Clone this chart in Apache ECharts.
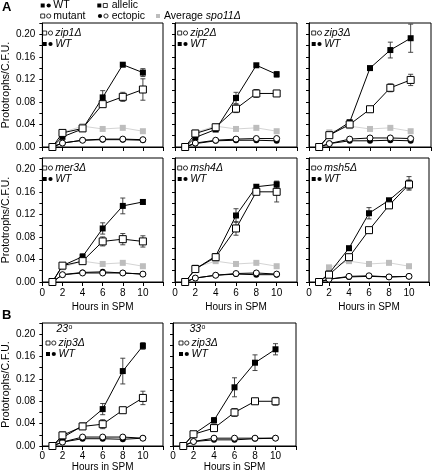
<!DOCTYPE html>
<html>
<head>
<meta charset="utf-8">
<script src="https://cdn.jsdelivr.net/npm/echarts@6/dist/echarts.min.js"></script>
<style>
html,body{margin:0;padding:0;background:#fff;}
#chart{width:432px;height:473px;}
</style>
</head>
<body>
<div id="chart"></div>
<script>
// ---- data ----
const hours = [1, 2, 4, 6, 8, 10];
const spoHours = [2, 4, 6, 8, 10];
const spo11Avg = [0.026, 0.037, 0.032, 0.034, 0.028];
const yTickLabels = [0, 0.04, 0.08, 0.12, 0.16, 0.20];
const xTickLabels = [0, 2, 4, 6, 8, 10];

// zip1
const zip1WtAllelic = [0, 0.018, 0.032, 0.088, 0.146, 0.132];
const zip1MutAllelic = [0, 0.025, 0.033, 0.076, 0.089, 0.102];
const zip1WtEctopic = [0, 0.007, 0.012, 0.013, 0.013, 0.012];
const zip1MutEctopic = [0, 0.007, 0.012, 0.014, 0.014, 0.013];
const zip1WtErr = [0, 0.002, 0.002, 0.012, 0.002, 0.007];
const zip1MutErr = [0, 0.002, 0.002, 0.004, 0.008, 0.019];
// zip2
const zip2WtAllelic = [0, 0.017, 0.031, 0.087, 0.145, 0.129];
const zip2MutAllelic = [0, 0.024, 0.035, 0.068, 0.095, 0.095];
const zip2WtEctopic = [0, 0.006, 0.011, 0.012, 0.012, 0.011];
const zip2MutEctopic = [0, 0.007, 0.012, 0.014, 0.015, 0.015];
const zip2WtErr = [0, 0.003, 0.002, 0.010, 0.002, 0.005];
const zip2MutErr = [0, 0.004, 0.002, 0.007, 0.007, 0.002];
// zip3
const zip3WtAllelic = [0, 0.021, 0.044, 0.140, 0.172, 0.193];
const zip3MutAllelic = [0, 0.021, 0.040, 0.067, 0.105, 0.119];
const zip3WtEctopic = [0, 0.006, 0.011, 0.011, 0.012, 0.011];
const zip3MutEctopic = [0, 0.006, 0.014, 0.016, 0.016, 0.015];
const zip3WtErr = [0, 0.002, 0.003, 0.002, 0.014, 0.025];
const zip3MutErr = [0, 0.002, 0.003, 0.003, 0.007, 0.010];
// mer3
const mer3WtAllelic = [0, 0.029, 0.045, 0.095, 0.135, 0.142];
const mer3MutAllelic = [0, 0.029, 0.037, 0.072, 0.076, 0.072];
const mer3WtEctopic = [0, 0.013, 0.017, 0.018, 0.016, 0.014];
const mer3MutEctopic = [0, 0.013, 0.016, 0.016, 0.016, 0.014];
const mer3WtErr = [0, 0.002, 0.005, 0.010, 0.014, 0.004];
const mer3MutErr = [0, 0.002, 0.003, 0.008, 0.010, 0.010];
// msh4
const msh4WtAllelic = [0, 0.023, 0.046, 0.118, 0.169, 0.173];
const msh4MutAllelic = [0, 0.023, 0.044, 0.095, 0.160, 0.160];
const msh4WtEctopic = [0, 0.007, 0.012, 0.014, 0.013, 0.013];
const msh4MutEctopic = [0, 0.007, 0.012, 0.015, 0.016, 0.014];
const msh4WtErr = [0, 0.002, 0.003, 0.012, 0.003, 0.006];
const msh4MutErr = [0, 0.002, 0.003, 0.012, 0.003, 0.018];
// msh5
const msh5WtAllelic = [0, 0.015, 0.060, 0.122, 0.145, 0.175];
const msh5MutAllelic = [0, 0.013, 0.044, 0.092, 0.136, 0.173];
const msh5WtEctopic = [0, 0.005, 0.009, 0.010, 0.009, 0.010];
const msh5MutEctopic = [0, 0.005, 0.010, 0.011, 0.009, 0.010];
const msh5WtErr = [0, 0.002, 0.003, 0.010, 0.003, 0.012];
const msh5MutErr = [0, 0.002, 0.003, 0.003, 0.005, 0.008];
// B: zip3 at 23 degrees
const b23WtAllelic = [0, 0.015, 0.036, 0.066, 0.134, 0.179];
const b23MutAllelic = [0, 0.019, 0.035, 0.039, 0.064, 0.086];
const b23WtEctopic = [0, 0.007, 0.013, 0.013, 0.012, 0.014];
const b23MutEctopic = [0, 0.007, 0.016, 0.016, 0.016, 0.014];
const b23WtErr = [0, 0.003, 0.005, 0.010, 0.023, 0.006];
const b23MutErr = [0, 0.006, 0.005, 0.008, 0.003, 0.012];
// B: zip3 at 33 degrees
const b33WtAllelic = [0, 0.021, 0.046, 0.105, 0.149, 0.173];
const b33MutAllelic = [0, 0.021, 0.032, 0.060, 0.080, 0.080];
const b33WtEctopic = [0, 0.008, 0.011, 0.011, 0.013, 0.014];
const b33MutEctopic = [0, 0.008, 0.014, 0.014, 0.014, 0.014];
const b33WtErr = [0, 0.003, 0.005, 0.017, 0.014, 0.010];
const b33MutErr = [0, 0.003, 0.005, 0.007, 0.005, 0.007];

// ---- layout ----
const FONT = 'Liberation Sans, Arial, Helvetica, sans-serif';
const panels = [
  {gene: 'zip1Δ', grid: {left: 40, top: 23, width: 123, height: 124}, xl: false, yl: true, spo: true,
   wa: zip1WtAllelic, ma: zip1MutAllelic, we: zip1WtEctopic, me: zip1MutEctopic, wErr: zip1WtErr, mErr: zip1MutErr},
  {gene: 'zip2Δ', grid: {left: 175, top: 23, width: 122, height: 124}, xl: false, yl: false, spo: true,
   wa: zip2WtAllelic, ma: zip2MutAllelic, we: zip2WtEctopic, me: zip2MutEctopic, wErr: zip2WtErr, mErr: zip2MutErr},
  {gene: 'zip3Δ', grid: {left: 309, top: 23, width: 122, height: 124}, xl: false, yl: false, spo: true,
   wa: zip3WtAllelic, ma: zip3MutAllelic, we: zip3WtEctopic, me: zip3MutEctopic, wErr: zip3WtErr, mErr: zip3MutErr},
  {gene: 'mer3Δ', grid: {left: 40, top: 158, width: 123, height: 124}, xl: true, yl: true, spo: true, nameGap: 20, lm: 6,
   wa: mer3WtAllelic, ma: mer3MutAllelic, we: mer3WtEctopic, me: mer3MutEctopic, wErr: mer3WtErr, mErr: mer3MutErr},
  {gene: 'msh4Δ', grid: {left: 175, top: 158, width: 122, height: 124}, xl: true, yl: false, spo: true, nameGap: 20, lm: 6,
   wa: msh4WtAllelic, ma: msh4MutAllelic, we: msh4WtEctopic, me: msh4MutEctopic, wErr: msh4WtErr, mErr: msh4MutErr},
  {gene: 'msh5Δ', grid: {left: 309, top: 158, width: 122, height: 124}, xl: true, yl: false, spo: true, nameGap: 20, lm: 6,
   wa: msh5WtAllelic, ma: msh5MutAllelic, we: msh5WtEctopic, me: msh5MutEctopic, wErr: msh5WtErr, mErr: msh5MutErr},
  {gene: 'zip3Δ', temp: '23', grid: {left: 40, top: 323, width: 123, height: 123}, xl: true, yl: true, spo: false, nameGap: 14, lm: 5,
   wa: b23WtAllelic, ma: b23MutAllelic, we: b23WtEctopic, me: b23MutEctopic, wErr: b23WtErr, mErr: b23MutErr},
  {gene: 'zip3Δ', temp: '33', grid: {left: 173, top: 323, width: 123, height: 123}, xl: true, yl: false, spo: false, nameGap: 14, lm: 5,
   wa: b33WtAllelic, ma: b33MutAllelic, we: b33WtEctopic, me: b33MutEctopic, wErr: b33WtErr, mErr: b33MutErr}
];

const grids = [], xAxes = [], yAxes = [], series = [], graphics = [];

function errRender(params, api) {
  const x = api.value(0), lo = api.value(1), hi = api.value(2);
  const pLo = api.coord([x, lo]), pHi = api.coord([x, hi]);
  const c = 2.5;
  const st = {stroke: '#333', lineWidth: 0.9};
  return {type: 'group', children: [
    {type: 'line', shape: {x1: pLo[0], y1: pLo[1], x2: pHi[0], y2: pHi[1]}, style: st},
    {type: 'line', shape: {x1: pLo[0] - c, y1: pLo[1], x2: pLo[0] + c, y2: pLo[1]}, style: st},
    {type: 'line', shape: {x1: pHi[0] - c, y1: pHi[1], x2: pHi[0] + c, y2: pHi[1]}, style: st}
  ]};
}

function pairs(xs, ys) { return xs.map((h, i) => [h, ys[i]]); }
function errData(vals, errs) {
  const out = [];
  hours.forEach((h, i) => { if (errs[i] > 0) out.push([h, vals[i] - errs[i], vals[i] + errs[i]]); });
  return out;
}

panels.forEach((p, k) => {
  grids.push(Object.assign({show: true, borderColor: '#000', borderWidth: 1, backgroundColor: 'transparent'}, p.grid));
  xAxes.push({
    type: 'value', gridIndex: k, min: 0, max: 12, interval: 2,
    axisLine: {show: true, lineStyle: {color: '#000', width: 1}},
    axisTick: {show: true, length: 4, lineStyle: {color: '#000'}},
    axisLabel: {show: p.xl, margin: p.lm || 6, color: '#000', fontSize: 10, fontFamily: FONT,
      formatter: v => (xTickLabels.indexOf(v) >= 0 ? String(v) : '')},
    splitLine: {show: false},
    name: p.xl ? 'Hours in SPM' : '', nameLocation: 'middle', nameGap: p.nameGap || 20,
    nameTextStyle: {color: '#000', fontSize: 10, fontFamily: FONT}
  });
  yAxes.push({
    type: 'value', gridIndex: k, min: 0, max: 0.22, interval: 0.02,
    axisLine: {show: true, lineStyle: {color: '#000', width: 1}},
    axisTick: {show: true, length: 3, lineStyle: {color: '#000'}},
    axisLabel: {show: p.yl, margin: 7, color: '#000', fontSize: 10, fontFamily: FONT,
      formatter: v => {
        const m = yTickLabels.find(t => Math.abs(t - v) < 1e-6);
        return m === undefined ? '' : m.toFixed(2);
      }},
    splitLine: {show: false},
    name: p.yl ? 'Prototrophs/C.F.U.' : '', nameLocation: 'middle', nameGap: 27,
    nameTextStyle: {color: '#000', fontSize: 10.5, fontFamily: FONT}
  });
  const base = {type: 'line', xAxisIndex: k, yAxisIndex: k, clip: false, animation: false, silent: true};
  if (p.spo) {
    series.push(Object.assign({}, base, {data: pairs(spoHours, spo11Avg), symbol: 'rect', symbolSize: 6,
      itemStyle: {color: '#bdbdbd'}, lineStyle: {color: '#d4d4d4', width: 1}, z: 1}));
  }
  series.push(Object.assign({}, base, {data: pairs(hours, p.we), symbol: 'circle', symbolSize: 6,
    itemStyle: {color: '#000'}, lineStyle: {color: '#000', width: 1}, z: 2}));
  series.push(Object.assign({}, base, {data: pairs(hours, p.me), symbol: 'circle', symbolSize: 6,
    itemStyle: {color: '#fff', borderColor: '#000', borderWidth: 1}, lineStyle: {color: '#000', width: 1}, z: 3}));
  series.push({type: 'custom', xAxisIndex: k, yAxisIndex: k, renderItem: errRender, data: errData(p.wa, p.wErr), z: 4, silent: true, animation: false, clip: false});
  series.push({type: 'custom', xAxisIndex: k, yAxisIndex: k, renderItem: errRender, data: errData(p.ma, p.mErr), z: 4, silent: true, animation: false, clip: false});
  series.push(Object.assign({}, base, {data: pairs(hours, p.wa), symbol: 'rect', symbolSize: 6,
    itemStyle: {color: '#000'}, lineStyle: {color: '#000', width: 1}, z: 5}));
  series.push(Object.assign({}, base, {data: pairs(hours, p.ma), symbol: 'rect', symbolSize: 7,
    itemStyle: {color: '#fff', borderColor: '#000', borderWidth: 1}, lineStyle: {color: '#000', width: 1}, z: 6}));

  // in-panel legend
  const isB = !!p.temp;
  const lx = p.grid.left + (isB ? 6 : 2.7);
  const y1 = p.grid.top + (isB ? 20 : 10);
  const y2 = p.grid.top + (isB ? 31 : 21);
  addMarks(lx, y1, ['os', 'oc']);
  graphics.push(txt(lx + 12.5, y1, p.gene, {fontStyle: 'italic'}));
  addMarks(lx, y2, ['fs', 'fc']);
  graphics.push(txt(lx + 12.5, y2, 'WT', {fontStyle: 'italic'}));
  if (isB) {
    graphics.push(txt(lx + 10.5, p.grid.top + 6.5, p.temp, {fontStyle: 'italic'}));
    graphics.push(txt(lx + 22.5, p.grid.top + 4, 'o', {fontSize: 7}));
  }
});

function txt(x, y, s, extra) {
  return {type: 'text', x: x, y: y, silent: true, style: Object.assign({
    text: s, fill: '#000', font: '10.5px ' + FONT, fontSize: 10.5, fontFamily: FONT,
    verticalAlign: 'middle', align: 'left'}, extra || {})};
}
function addMarks(x, y, marks, gap) {
  gap = gap || 5.8;
  marks.forEach((m, i) => {
    const cx = x + 2 + i * gap;
    if (m === 'fs' || m === 'os' || m === 'gs') {
      graphics.push({type: 'rect', silent: true, shape: {x: cx - 2, y: y - 2, width: 4, height: 4},
        style: {fill: m === 'fs' ? '#000' : (m === 'gs' ? '#bdbdbd' : '#fff'), stroke: m === 'os' ? '#000' : null, lineWidth: 0.8}});
    } else {
      graphics.push({type: 'circle', silent: true, shape: {cx: cx, cy: y, r: 2.1},
        style: {fill: m === 'fc' ? '#000' : '#fff', stroke: m === 'oc' ? '#000' : null, lineWidth: 0.8}});
    }
  });
}

// top legend and panel letters
graphics.push(txt(2, 7.5, 'A', {fontSize: 13, fontWeight: 'bold'}));
graphics.push(txt(2, 315, 'B', {fontSize: 13, fontWeight: 'bold'}));
addMarks(40.7, 5.5, ['fs', 'fc'], 6);
graphics.push(txt(53.3, 5.5, 'WT'));
addMarks(97.3, 5.5, ['fs', 'os'], 6);
graphics.push(txt(111.7, 5.5, 'allelic'));
addMarks(40.7, 16, ['os', 'oc'], 6);
graphics.push(txt(53.3, 16, 'mutant'));
addMarks(98, 16, ['fc', 'oc'], 6);
graphics.push(txt(111.7, 16, 'ectopic'));
addMarks(156, 16, ['gs']);
graphics.push({type: 'text', x: 164, y: 16, silent: true, style: {
  text: '{n|Average }{i|spo11Δ}', verticalAlign: 'middle', align: 'left', fill: '#000',
  fontSize: 10.5, fontFamily: FONT,
  rich: {n: {fontSize: 10.5, fontFamily: FONT, fill: '#000'}, i: {fontSize: 10.5, fontFamily: FONT, fontStyle: 'italic', fill: '#000'}}}});

const chart = echarts.init(document.getElementById('chart'), null, {renderer: 'canvas'});
chart.setOption({
  animation: false,
  backgroundColor: '#fff',
  grid: grids, xAxis: xAxes, yAxis: yAxes, series: series,
  graphic: graphics
});
</script>
</body>
</html>
